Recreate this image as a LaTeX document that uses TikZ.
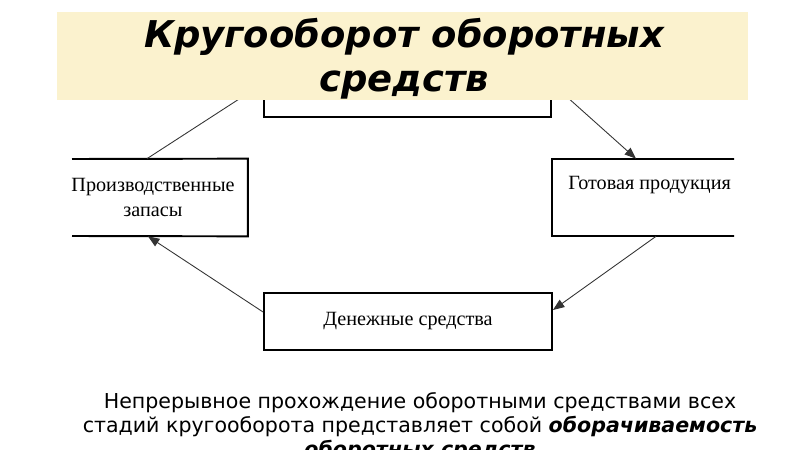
\documentclass[tikz,border=0pt]{standalone}
\usepackage{fontspec}
\setmainfont{Liberation Serif}
\newfontfamily\dejavu{DejaVu Sans}
\usetikzlibrary{arrows.meta}
\definecolor{bandfill}{RGB}{251,242,206}
\tikzset{
  box/.style={draw, line width=1.1pt, inner sep=0pt},
  flow/.style={-{Triangle[length=6.5pt,width=5pt]}, line width=0.5pt, black!80},
  boxtext/.style={font=\fontsize{11.5}{14}\selectfont, align=center},
}
\begin{document}
\begin{tikzpicture}[x=0.02cm, y=-0.02cm]
        \useasboundingbox (0, 0) rectangle (800, 449);
        \clip (0, 0) rectangle (800, 449);
        % boxes of the cycle
        \begin{scope}
        \clip (71, 0) rectangle (734, 449);
        \node[box, minimum width=5.74cm, minimum height=1.34cm] (prod) at (407.5, 83.5) {};
        \node[boxtext, minimum width=3.78cm, minimum height=1.54cm] (zapasy) at (153, 197.5) {Производственные\\запасы};
        \draw[line width=1.1pt] (72, 159) -- (zapasy.north east) -- (zapasy.south east) -- (72, 236);
        \node[minimum width=4.16cm, minimum height=1.54cm] (gotov) at (656, 197.5) {};
        \draw[line width=1.1pt] (gotov.north east) -- (gotov.north west) -- (gotov.south west) -- (gotov.south east);
        \node[boxtext, anchor=west, inner sep=0pt] (gotovlbl) at (568, 185) {Готовая продукция};
        \node[box, boxtext, minimum width=5.76cm, minimum height=1.14cm] (dengi) at (408, 321.5) {Денежные средства};
        \end{scope}
        % arrows
        \draw[flow] ([yshift=0.19cm]dengi.west) -- ([xshift=-0.1cm]zapasy.south);
        \draw[flow] ([xshift=-0.12cm]zapasy.north) -- (prod.west);
        \draw[flow] (prod.east) -- ([xshift=-0.4cm]gotov.north);
        \draw[flow] (gotov.south) -- ([yshift=0.23cm]dengi.east);
        % title band
        \fill[bandfill] (57, 12) rectangle (748, 100);
        \node[font=\dejavu\bfseries\itshape\fontsize{21}{25}\selectfont, align=center] (title) at (404, 59) {Кругооборот оборотных\\средств};
        % caption
        \node[font=\dejavu\fontsize{11.7}{13.6}\selectfont, align=center] (caption) at (420, 427)
          {Непрерывное прохождение оборотными средствами всех\\стадий кругооборота представляет собой \textbf{\textit{оборачиваемость}}\\\textbf{\textit{оборотных средств}}};
\end{tikzpicture}
\end{document}
